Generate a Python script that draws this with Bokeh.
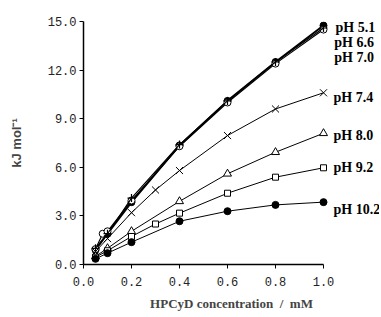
from bokeh.plotting import figure
from bokeh.models import Range1d, PrintfTickFormatter, FixedTicker
from bokeh.core.properties import value
from bokeh.embed import file_html
from bokeh.resources import INLINE

# Data
x_ph51 = [0.05, 0.1, 0.2, 0.4, 0.6, 0.8, 1.0]
y_ph51 = [0.9, 1.9, 3.85, 7.35, 10.1, 12.5, 14.75]

x_ph66 = [0.05, 0.08, 0.1, 0.2, 0.4, 0.6, 0.8, 1.0]
y_ph66 = [0.95, 1.9, 2.05, 3.95, 7.3, 10.0, 12.4, 14.5]

x_ph70 = [0.05, 0.1, 0.2, 0.4, 0.6, 0.8, 1.0]
y_ph70 = [1.0, 1.9, 4.1, 7.4, 10.1, 12.5, 14.6]

x_ph74 = [0.05, 0.1, 0.2, 0.3, 0.4, 0.6, 0.8, 1.0]
y_ph74 = [0.8, 1.6, 3.2, 4.6, 5.8, 7.96, 9.6, 10.6]

x_ph80 = [0.05, 0.1, 0.2, 0.4, 0.6, 0.8, 1.0]
y_ph80 = [0.5, 1.0, 2.05, 3.9, 5.6, 6.93, 8.1]

x_ph92 = [0.05, 0.1, 0.2, 0.3, 0.4, 0.6, 0.8, 1.0]
y_ph92 = [0.45, 0.85, 1.73, 2.5, 3.17, 4.4, 5.39, 5.97]

x_ph102 = [0.05, 0.1, 0.2, 0.4, 0.6, 0.8, 1.0]
y_ph102 = [0.35, 0.7, 1.38, 2.67, 3.29, 3.68, 3.85]

labels = ["pH 5.1", "pH 6.6", "pH 7.0", "pH 7.4", "pH 8.0", "pH 9.2", "pH 10.2"]
label_x = [1.05, 1.045, 1.045, 1.042, 1.042, 1.042, 1.042]
label_y = [14.6, 13.7, 12.8, 10.3, 7.96, 6.0, 3.4]

x_ticks = [0.0, 0.2, 0.4, 0.6, 0.8, 1.0]
y_ticks = [0.0, 3.0, 6.0, 9.0, 12.0, 15.0]

p = figure(frame_width=296, frame_height=243, output_backend="svg", toolbar_location=None,
           x_range=Range1d(0, 296 / 240), y_range=Range1d(0, 15),
           min_border_left=83, min_border_right=0, min_border_top=21, min_border_bottom=20)
p.outline_line_color = None
p.grid.visible = False
p.background_fill_color = "white"
p.border_fill_color = "white"

for ax in (p.xaxis[0], p.yaxis[0]):
    ax.formatter = PrintfTickFormatter(format="%.1f")
    ax.minor_tick_line_color = None
    ax.major_tick_out = 4
    ax.major_tick_in = 0
    ax.axis_line_color = "black"
    ax.axis_line_width = 1.5
    ax.major_tick_line_color = "black"
    ax.major_label_text_font = "Liberation Mono"
    ax.major_label_text_font_size = "12px"
    ax.major_label_text_color = "#222222"
p.xaxis.ticker = FixedTicker(ticks=x_ticks)
p.yaxis.ticker = FixedTicker(ticks=y_ticks)
p.xaxis.bounds = (0, 1.0)
p.yaxis.bounds = (0, 15)
p.xaxis.major_label_standoff = 8
p.yaxis.major_label_standoff = 3

p.xaxis.axis_label = "HPCyD concentration \u00a0/\u00a0 mM"
p.xaxis.axis_label_text_font = "Liberation Serif"
p.xaxis.axis_label_text_font_style = "bold"
p.xaxis.axis_label_text_font_size = "13px"
p.xaxis.axis_label_standoff = 7

p.yaxis.axis_label = "kJ mol⁻¹"
p.yaxis.axis_label_text_font = "Liberation Sans"
p.yaxis.axis_label_text_font_style = "bold"
p.yaxis.axis_label_text_font_size = "13px"
p.yaxis.axis_label_standoff = 21

# Top group
p.line(x_ph51, y_ph51, line_color="black", line_width=2)
p.scatter(x_ph51, y_ph51, marker="circle", size=7, fill_color="black", line_color="black")
p.line(x_ph66, y_ph66, line_color="black", line_width=1.2)
p.scatter(x_ph66, y_ph66, marker="circle", size=7, fill_color="white", line_color="black")
p.line(x_ph70, y_ph70, line_color="black", line_width=1.2)
p.scatter(x_ph70, y_ph70, marker="cross", size=8, line_color="black", line_width=1.2)

p.line(x_ph74, y_ph74, line_color="black", line_width=1)
p.scatter(x_ph74, y_ph74, marker="x", size=10, line_color="black", line_width=1)

p.line(x_ph80, y_ph80, line_color="black", line_width=1)
p.scatter(x_ph80, y_ph80, marker="triangle", size=8, fill_color="white", line_color="black")

p.line(x_ph92, y_ph92, line_color="black", line_width=1)
p.scatter(x_ph92, y_ph92, marker="square", size=6, fill_color="white", line_color="black")

p.line(x_ph102, y_ph102, line_color="black", line_width=1)
p.scatter(x_ph102, y_ph102, marker="circle", size=7, fill_color="black", line_color="black")

p.text(x=label_x, y=label_y, text=labels, text_font=value("Liberation Serif"),
       text_font_style="bold", text_font_size="14px",
       text_baseline="middle", text_color="black")

open("out.html", "w").write(file_html(p, INLINE))
